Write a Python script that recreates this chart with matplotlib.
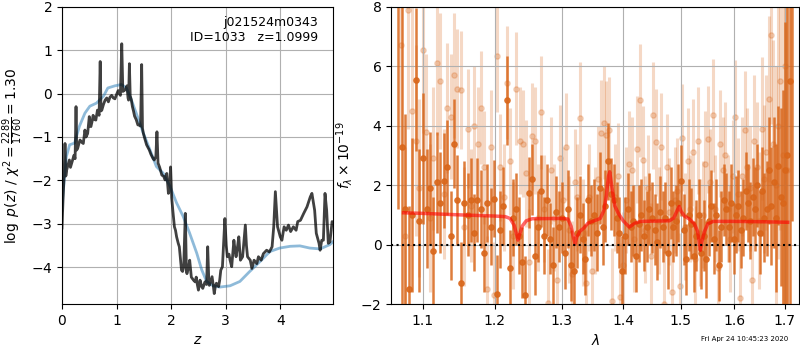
import matplotlib
matplotlib.use("Agg")
import matplotlib.pyplot as plt
from matplotlib.ticker import FixedLocator, FixedFormatter, NullLocator
import numpy as np

# p(z) from the redshift fit (noisy) and smoothed prior curve
z_grid = [0.00, 0.02, 0.037, 0.055, 0.07, 0.086, 0.11, 0.135, 0.155, 0.178,
          0.20, 0.22, 0.24, 0.257, 0.27, 0.29, 0.31, 0.33, 0.36, 0.39,
          0.42, 0.44, 0.47, 0.50, 0.515, 0.53, 0.55, 0.57, 0.60, 0.62,
          0.65, 0.68, 0.70, 0.715, 0.73, 0.76, 0.79, 0.82, 0.85, 0.88,
          0.91, 0.94, 0.97, 1.00, 1.03, 1.05, 1.07, 1.095, 1.115, 1.14,
          1.165, 1.19, 1.21, 1.22, 1.235, 1.25, 1.27, 1.29, 1.31, 1.33,
          1.36, 1.39, 1.42, 1.44, 1.46, 1.475, 1.49, 1.52, 1.55, 1.58,
          1.60, 1.63, 1.65, 1.67, 1.69, 1.72, 1.74, 1.76, 1.79, 1.83,
          1.86, 1.89, 1.92, 1.95, 1.97, 1.99, 2.01, 2.03, 2.06, 2.08,
          2.10, 2.13, 2.15, 2.17, 2.19, 2.21, 2.23, 2.26, 2.28, 2.29,
          2.32, 2.34, 2.37, 2.41, 2.44, 2.46, 2.48, 2.50, 2.53, 2.56,
          2.58, 2.62, 2.65, 2.67, 2.69, 2.70, 2.73, 2.75, 2.77, 2.79,
          2.81, 2.83, 2.87, 2.89, 2.91, 2.94, 2.985, 3.01, 3.03, 3.06,
          3.08, 3.11, 3.15, 3.17, 3.19, 3.22, 3.24, 3.27, 3.31, 3.36,
          3.38, 3.40, 3.45, 3.48, 3.52, 3.57, 3.60, 3.65, 3.69, 3.75,
          3.80, 3.85, 3.88, 3.91, 3.95, 4.00, 4.03, 4.07, 4.11, 4.15,
          4.19, 4.24, 4.29, 4.32, 4.37, 4.43, 4.49, 4.55, 4.58, 4.63,
          4.66, 4.71, 4.73, 4.76, 4.79, 4.82, 4.85, 4.88, 4.91, 4.95,
          4.97]
log_pz = [-3.1, -2.4, -1.92, -1.15, -1.9, -1.76, -1.65, -1.53, -1.7, -1.6,
          -1.5, -1.42, -1.5, -0.30, -1.3, -1.25, -1.15, -1.07, -1.12, -1.15,
          -0.84, -1.0, -0.92, -0.53, -0.75, -0.76, -0.65, -0.50, -0.6, -0.61,
          -0.38, -0.5, 0.74, -0.4, -0.38, -0.25, -0.15, -0.1, -0.19, -0.08,
          -0.04, -0.1, -0.12, -0.02, 0.07, 0.0, -0.04, 1.15, 0.05, 0.07,
          0.1, 0.18, -0.1, -0.15, 0.69, -0.05, -0.14, -0.3, -0.4, -0.52,
          -0.6, -0.72, -0.73, -0.75, 0.67, -0.8, -0.91, -1.05, -1.18, -1.25,
          -1.30, -1.4, -1.45, -1.5, -1.53, -1.45, -0.88, -1.6, -1.7, -1.88,
          -1.9, -1.99, -1.84, -2.30, -2.2, -1.69, -2.4, -2.68, -3.07, -3.15,
          -3.30, -3.45, -3.53, -3.8, -4.07, -4.1, -4.0, -2.76, -4.1, -4.15,
          -4.0, -3.84, -4.23, -4.30, -4.34, -4.23, -4.4, -4.53, -4.30, -4.45,
          -4.49, -4.34, -4.4, -3.53, -4.3, -4.42, -4.3, -4.22, -4.4, -4.61,
          -4.45, -4.37, -4.45, -4.3, -4.07, -3.99, -2.88, -3.5, -3.76, -3.7,
          -3.84, -3.99, -3.38, -3.6, -3.76, -3.5, -3.30, -3.84, -3.76, -3.03,
          -3.5, -3.76, -3.84, -4.03, -3.84, -3.92, -3.76, -3.84, -3.69, -3.61,
          -3.65, -3.53, -3.07, -2.26, -3.07, -3.30, -3.38, -3.07, -3.15, -3.03,
          -3.18, -3.07, -3.15, -2.95, -2.92, -2.76, -2.61, -2.38, -2.30, -2.69,
          -3.22, -3.45, -3.61, -3.38, -3.38, -2.30, -2.69, -3.45, -3.42, -2.95,
          -3.0]

z_prior = [0.0, 0.02, 0.08, 0.14, 0.23, 0.32, 0.42, 0.51, 0.63, 0.76,
           0.84, 0.97, 1.09, 1.18, 1.27, 1.36, 1.49, 1.61, 1.73, 1.85,
           1.98, 2.10, 2.22, 2.34, 2.47, 2.56, 2.65, 2.77, 2.89, 3.08,
           3.26, 3.44, 3.63, 3.81, 3.99, 4.18, 4.36, 4.54, 4.73, 4.91, 4.97]
log_prior = [-2.68, -2.3, -1.45, -1.18, -1.14, -0.75, -0.45, -0.29, -0.22, -0.06,
             0.13, 0.18, 0.21, 0.13, -0.14, -0.45, -0.91, -1.29, -1.68, -1.83,
             -2.14, -2.52, -2.83, -3.22, -3.68, -4.06, -4.33, -4.43, -4.46, -4.43,
             -4.33, -4.1, -3.87, -3.64, -3.56, -3.52, -3.51, -3.56, -3.58, -3.48, -3.41]

# grism spectra: two beams, flux and 1-sigma errors in units of 1e-19
wave_a = np.linspace(1.068, 1.715, 140)
flux_a = [9.5, 3.3, 1.2, -1.5, 1.0, 5.55, 0.8, 2.9, 1.2, 1.9,
          -0.2, 2.1, 1.4, 2.15, 2.6, 0.3, 3.4, 1.5, -1.3, 1.4,
          1.0, 1.5, 0.4, 1.5, 1.2, -0.3, 1.4, 0.6, 1.55, -1.65,
          0.5, 1.3, 4.85, -0.8, 0.9, 1.2, 0.3, -0.6, -1.7, 1.75,
          2.2, -0.4, 0.6, 1.8, 0.3, 1.5, 0.2, -0.7, 1.1, 0.6,
          0.9, -0.3, 1.2, -0.7, -0.9, 0.4, 1.0, 0.2, -0.5, 1.5,
          0.8, 1.0, 0.4, 1.9, 0.6, 1.3, 2.8, 1.7, 1.5, 0.9,
          0.4, -0.9, 0.3, 1.2, 0.6, 0.8, -0.4, 0.7, 1.0, 0.3,
          0.6, 1.2, 0.9, 0.5, 0.1, 1.1, 0.6, 0.9, -0.3, 1.4,
          0.6, 0.8, 1.4, 2.15, 0.5, -0.5, 1.0, 0.7, -0.4, 0.3,
          1.0, -0.3, 0.3, -0.5, 0.8, 1.3, 0.2, 1.0, -0.7, 0.6,
          1.5, 1.2, 0.6, 1.4, 0.2, 1.0, 1.3, 0.5, 0.9, 1.8,
          1.4, 0.8, 1.6, 1.2, 2.0, 0.4, 1.8, 0.9, 1.2, 2.5,
          1.3, 2.1, 0.9, 2.65, 1.6, 1.4, 2.5, 3.0, 5.5, 9.0]
err_a = [8.3, 6.0, 3.2, 2.8, 2.6, 2.4, 2.4, 2.2, 2.0, 1.9,
         1.8, 1.7, 1.7, 1.6, 1.6, 1.5, 1.5, 1.5, 1.4, 1.4,
         1.4, 1.4, 1.3, 1.4, 1.3, 1.3, 1.3, 1.3, 1.3, 1.3,
         1.3, 1.3, 1.5, 1.3, 1.3, 1.2, 1.3, 1.2, 1.3, 1.2,
         1.2, 1.3, 1.2, 1.2, 1.3, 1.2, 1.2, 1.3, 1.2, 1.2,
         1.2, 1.2, 1.3, 1.2, 1.2, 1.2, 1.3, 1.2, 1.2, 1.2,
         1.2, 1.2, 1.3, 1.2, 1.3, 1.2, 1.3, 1.2, 1.2, 1.2,
         1.2, 1.2, 1.3, 1.2, 1.2, 1.2, 1.2, 1.3, 1.2, 1.2,
         1.2, 1.2, 1.2, 1.2, 1.3, 1.2, 1.2, 1.2, 1.2, 1.2,
         1.2, 1.2, 1.3, 1.2, 1.2, 1.2, 1.2, 1.2, 1.2, 1.2,
         1.2, 1.2, 1.2, 1.3, 1.2, 1.2, 1.2, 1.2, 1.2, 1.2,
         1.2, 1.2, 1.2, 1.3, 1.2, 1.3, 1.2, 1.3, 1.3, 1.3,
         1.3, 1.3, 1.3, 1.4, 1.4, 1.4, 1.5, 1.5, 1.6, 1.8,
         2.0, 2.2, 2.5, 2.0, 3.0, 3.8, 5.0, 9.0, 8.5, 8.2]

wave_b = np.linspace(1.072, 1.705, 136)
flux_b = [6.7, 0.3, 7.9, 4.5, 3.5, 1.9, 6.55, 3.8, 0.9, 2.9,
          6.1, 5.5, 1.7, 4.6, 4.3, 5.7, 5.25, 5.2, 0.6, 3.9,
          1.3, 4.0, 3.4, 4.6, 2.6, -1.5, 3.3, -1.7, 6.35, 2.6,
          1.6, 5.45, 2.8, 0.3, 5.25, 3.5, 3.4, 2.4, -0.6, 3.65,
          3.5, 0.9, 4.45, 1.2, -1.95, 2.5, 0.9, -1.2, 2.9, 1.5,
          3.3, 0.5, -1.0, 2.1, 1.6, 4.25, 0.4, -1.3, 1.6, -0.9,
          0.8, 2.2, 3.75, 4.1, 3.7, 3.85, -1.9, 1.6, 2.3, -1.75,
          -0.7, 1.5, 2.7, 2.5, 0.2, 3.2, 4.85, 2.85, 0.5, 1.9,
          -0.4, 4.35, 3.45, 0.8, 3.3, -2.0, 2.6, 1.1, -1.6, 1.5,
          1.8, -1.4, 3.6, 0.6, 2.8, 1.2, 3.1, -0.5, 3.5, 0.4,
          1.0, 2.7, 3.55, 2.1, 4.35, 1.2, -0.8, 3.4, 2.5, 3.0,
          1.2, 0.2, 2.3, 4.3, 1.7, -1.8, 2.3, 3.85, 2.6, 1.9,
          -1.2, 3.5, 2.6, 0.8, 3.9, 2.2, 3.1, 4.9, 7.05, 3.4,
          2.0, 4.0, 5.5, 3.0, 6.0, 2.5]
err_b = [3.5, 3.0, 4.0, 3.5, 3.2, 3.0, 2.8, 2.6, 2.5, 2.4,
         2.4, 2.3, 2.2, 2.2, 2.1, 2.1, 2.0, 2.0, 2.0, 2.0,
         1.9, 2.0, 1.9, 1.9, 1.9, 1.8, 1.9, 1.8, 1.9, 1.8,
         1.8, 1.9, 1.8, 1.8, 1.9, 1.8, 1.8, 1.8, 1.8, 1.8,
         1.8, 1.8, 1.9, 1.8, 1.8, 1.8, 1.8, 1.8, 1.8, 1.8,
         1.8, 1.8, 1.8, 1.8, 1.8, 1.9, 1.8, 1.8, 1.8, 1.8,
         1.8, 1.8, 1.8, 1.9, 1.8, 1.8, 1.8, 1.8, 1.8, 1.8,
         1.8, 1.8, 1.8, 1.8, 1.8, 1.8, 1.9, 1.8, 1.8, 1.8,
         1.8, 1.8, 1.8, 1.8, 1.8, 1.8, 1.8, 1.8, 1.8, 1.8,
         1.8, 1.8, 1.8, 1.8, 1.8, 1.8, 1.8, 1.8, 1.8, 1.8,
         1.8, 1.8, 1.8, 1.8, 1.9, 1.8, 1.8, 1.8, 1.8, 1.8,
         1.8, 1.8, 1.9, 1.9, 1.9, 1.9, 2.0, 2.0, 2.0, 2.1,
         2.1, 2.2, 2.2, 2.3, 2.4, 2.5, 2.6, 2.8, 3.0, 3.5,
         4.0, 4.5, 5.0, 5.5, 6.0, 6.0]

# best-fit model
model_wave = [1.0752, 1.10, 1.15, 1.20, 1.215, 1.222, 1.228, 1.232, 1.2337, 1.236,
              1.240, 1.246, 1.255, 1.30, 1.310, 1.315, 1.319, 1.3213, 1.324, 1.329,
              1.335, 1.342, 1.352, 1.362, 1.368, 1.372, 1.3755, 1.3776, 1.381, 1.386,
              1.392, 1.400, 1.4103, 1.42, 1.43, 1.48, 1.488, 1.494, 1.4976, 1.501,
              1.507, 1.516, 1.525, 1.531, 1.534, 1.5362, 1.539, 1.544, 1.550, 1.56,
              1.60, 1.65, 1.7062]
model_flux = [1.07, 1.05, 1.0, 0.96, 0.94, 0.88, 0.65, 0.32, 0.15, 0.33,
              0.62, 0.80, 0.87, 0.88, 0.86, 0.62, 0.22, 0.02, 0.25, 0.45,
              0.55, 0.72, 0.80, 0.88, 1.15, 1.65, 2.3, 2.45, 1.95, 1.3,
              1.05, 0.80, 0.59, 0.72, 0.78, 0.80, 0.90, 1.15, 1.28, 1.12,
              0.96, 0.86, 0.70, 0.45, 0.10, -0.19, 0.10, 0.45, 0.70, 0.78,
              0.78, 0.77, 0.75]

spec_color = '#d9661a'

fig = plt.figure(figsize=(8, 3.5), dpi=100)
ax1 = fig.add_axes([0.0775, 0.1314, 0.339, 0.849])
ax2 = fig.add_axes([0.489, 0.1314, 0.51, 0.849])

# --- p(z) panel
ax1.plot(z_prior, log_prior, color='#1f77b4', alpha=0.5, lw=2)
ax1.plot(z_grid, log_pz, color='k', alpha=0.75, lw=2)
ax1.set_xlim(0, 4.97)
ax1.set_ylim(-4.85, 2)
ax1.set_xticks([0, 1, 2, 3, 4])
ax1.set_yticks([-4, -3, -2, -1, 0, 1, 2])
ax1.set_yticklabels(['$-4$', '$-3$', '$-2$', '$-1$', '0', '1', '2'])
ax1.grid(True)
ax1.set_xlabel('$z$')
ax1.set_ylabel(r'$\log\ p(z)$' + ' / ' + r'$\chi^2=\frac{2289}{1760}=1.30$')
ax1.text(0.945, 0.968, 'j021524m0343\nID=1033   z=1.0999', transform=ax1.transAxes,
         ha='right', va='top', fontsize=9)

# --- spectrum panel
ax2.errorbar(wave_b, flux_b, yerr=err_b, fmt='o', color=spec_color, alpha=0.25,
             ms=3.8, elinewidth=2.2, capsize=0, zorder=1)
ax2.errorbar(wave_a, flux_a, yerr=err_a, fmt='o', color=spec_color, alpha=0.85,
             ms=3.8, elinewidth=1.8, capsize=0, zorder=2)
ax2.plot(model_wave, model_flux, color='r', alpha=0.6, lw=2.5, zorder=3)
ax2.axhline(0, color='k', ls=':', lw=1.5, zorder=4)
ax2.set_xscale('log')
ax2.set_xlim(1.0593, 1.730)
ax2.set_ylim(-2, 8)
xt = [1.1, 1.2, 1.3, 1.4, 1.5, 1.6, 1.7]
ax2.xaxis.set_major_locator(FixedLocator(xt))
ax2.xaxis.set_major_formatter(FixedFormatter(['%.1f' % v for v in xt]))
ax2.xaxis.set_minor_locator(NullLocator())
ax2.set_yticks([-2, 0, 2, 4, 6, 8])
ax2.set_yticklabels(['$-2$', '0', '2', '4', '6', '8'])
ax2.grid(True)
ax2.set_xlabel(r'$\lambda$')
ax2.set_ylabel(r'$f_\lambda\times10^{-19}$')

fig.text(0.985, 0.031, 'Fri Apr 24 10:45:23 2020', ha='right', va='center', fontsize=5)

fig.savefig('out.png', dpi=100)
